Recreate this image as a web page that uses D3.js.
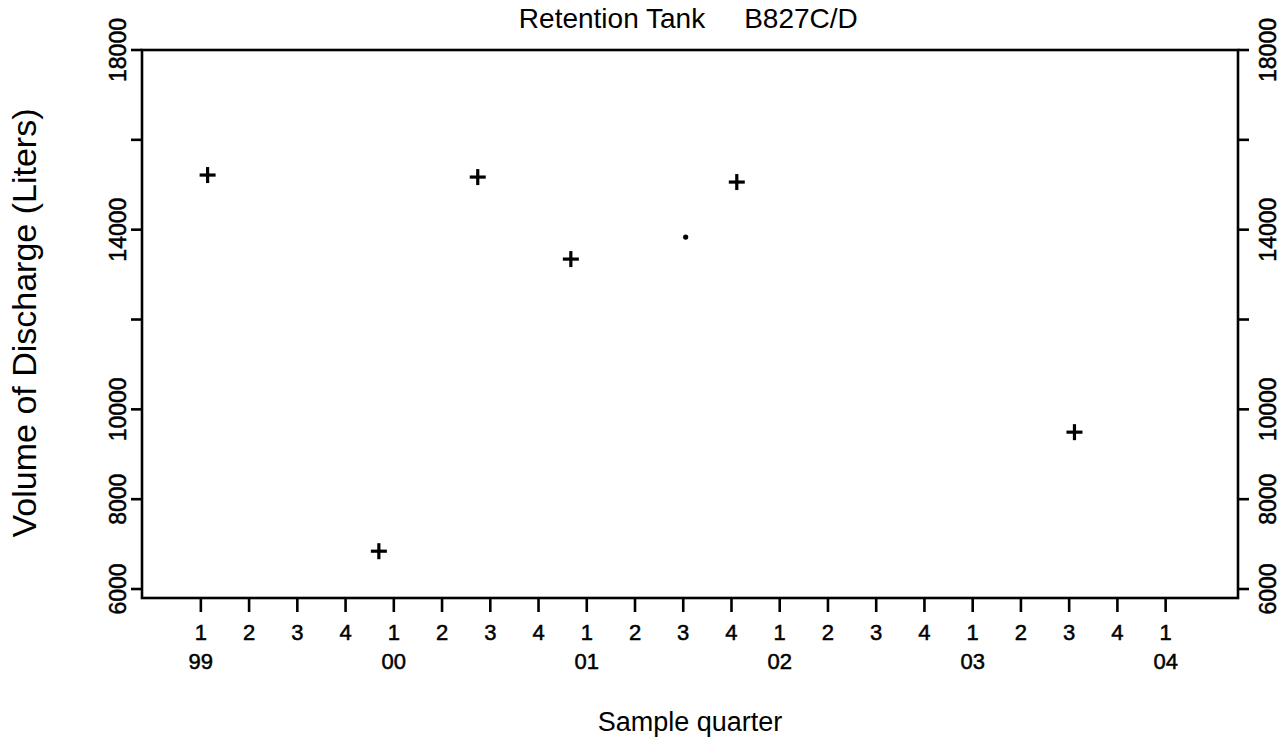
<!DOCTYPE html>
<html>
<head>
<meta charset="utf-8">
<script src="https://cdn.jsdelivr.net/npm/d3@7"></script>
<style>
  html, body { margin: 0; padding: 0; background: #fff; }
  svg { display: block; }
  text { font-family: "Liberation Sans", Arial, Helvetica, sans-serif; fill: #000; }
</style>
</head>
<body>
<svg id="chart" width="1288" height="742"></svg>
<script>
// ---- data ----
const quarterLabels = ["1","2","3","4","1","2","3","4","1","2","3","4","1","2","3","4","1","2","3","4","1"];
const yearLabels = ["99","00","01","02","03","04"];
const yearTickIndex = [0, 4, 8, 12, 16, 20];
const sampleQuarter = [0.14, 3.69, 5.74, 7.67, 10.05, 11.11, 18.11];
const volume = [15216, 6842, 15171, 13345, 13835, 15060, 9492];
const markerType = ["plus","plus","plus","plus","dot","plus","plus"];
const yTicks = [6000, 8000, 10000, 12000, 14000, 16000, 18000];
const yTickLabels = ["6000", "8000", "10000", "", "14000", "", "18000"];
const titleParts = ["Retention Tank", "B827C/D"];
const xTitle = "Sample quarter";
const yTitle = "Volume of Discharge (Liters)";

(function () {
// ---- layout ----
const svg = d3.select("#chart");
const pl = 142, pr = 1238, pt = 50, pb = 598;
const x = d3.scaleLinear().domain([-1.22, 21.5]).range([pl, pr]);
const y = d3.scaleLinear().domain([5800, 18000]).range([pb, pt]);

const axisW = 2.6;
const ink = t => t.attr("stroke", "#000").attr("stroke-width", 0.5);
// frame
svg.append("rect").attr("x", pl).attr("y", pt).attr("width", pr-pl).attr("height", pb-pt)
  .attr("fill", "none").attr("stroke", "#000").attr("stroke-width", axisW);

// y ticks left & right
const yt = svg.append("g");
yTicks.forEach((v, i) => {
  const yy = y(v);
  yt.append("line").attr("x1", pl-11).attr("x2", pl).attr("y1", yy).attr("y2", yy)
    .attr("stroke", "#000").attr("stroke-width", axisW);
  yt.append("line").attr("x1", pr).attr("x2", pr+11).attr("y1", yy).attr("y2", yy)
    .attr("stroke", "#000").attr("stroke-width", axisW);
  if (yTickLabels[i]) {
    ink(yt.append("text").attr("transform", `translate(${pl-16},${yy}) rotate(-90)`)
      .attr("text-anchor", "middle").attr("font-size", 23).text(yTickLabels[i]));
    ink(yt.append("text").attr("transform", `translate(${pr+38},${yy}) rotate(-90)`)
      .attr("text-anchor", "middle").attr("font-size", 23).text(yTickLabels[i]));
  }
});

// x ticks
const xt = svg.append("g");
quarterLabels.forEach((lab, i) => {
  const xx = x(i);
  xt.append("line").attr("x1", xx).attr("x2", xx).attr("y1", pb).attr("y2", pb+14)
    .attr("stroke", "#000").attr("stroke-width", axisW);
  ink(xt.append("text").attr("x", xx).attr("y", 640).attr("text-anchor", "middle")
    .attr("font-size", 22).text(lab));
});
yearLabels.forEach((lab, i) => {
  ink(xt.append("text").attr("x", x(yearTickIndex[i])).attr("y", 669).attr("text-anchor", "middle")
    .attr("font-size", 22).text(lab));
});

// points
const pts = svg.append("g");
sampleQuarter.forEach((q, i) => {
  const px = x(q), py = y(volume[i]);
  if (markerType[i] === "plus") {
    pts.append("line").attr("x1", px-8).attr("x2", px+8).attr("y1", py).attr("y2", py)
      .attr("stroke", "#000").attr("stroke-width", 3.2);
    pts.append("line").attr("x1", px).attr("x2", px).attr("y1", py-8).attr("y2", py+8)
      .attr("stroke", "#000").attr("stroke-width", 3.2);
  } else {
    pts.append("circle").attr("cx", px).attr("cy", py).attr("r", 2.6).attr("fill", "#000");
  }
});

// titles
svg.append("text").attr("x", 612).attr("y", 28).attr("text-anchor", "middle")
  .attr("font-size", 28).text(titleParts[0]);
svg.append("text").attr("x", 801).attr("y", 28).attr("text-anchor", "middle")
  .attr("font-size", 28).text(titleParts[1]);
svg.append("text").attr("x", 690).attr("y", 731).attr("text-anchor", "middle")
  .attr("font-size", 27).text(xTitle);
svg.append("text").attr("transform", `translate(36,323) rotate(-90)`).attr("text-anchor", "middle")
  .attr("font-size", 34).text(yTitle);
})();
</script>
</body>
</html>
